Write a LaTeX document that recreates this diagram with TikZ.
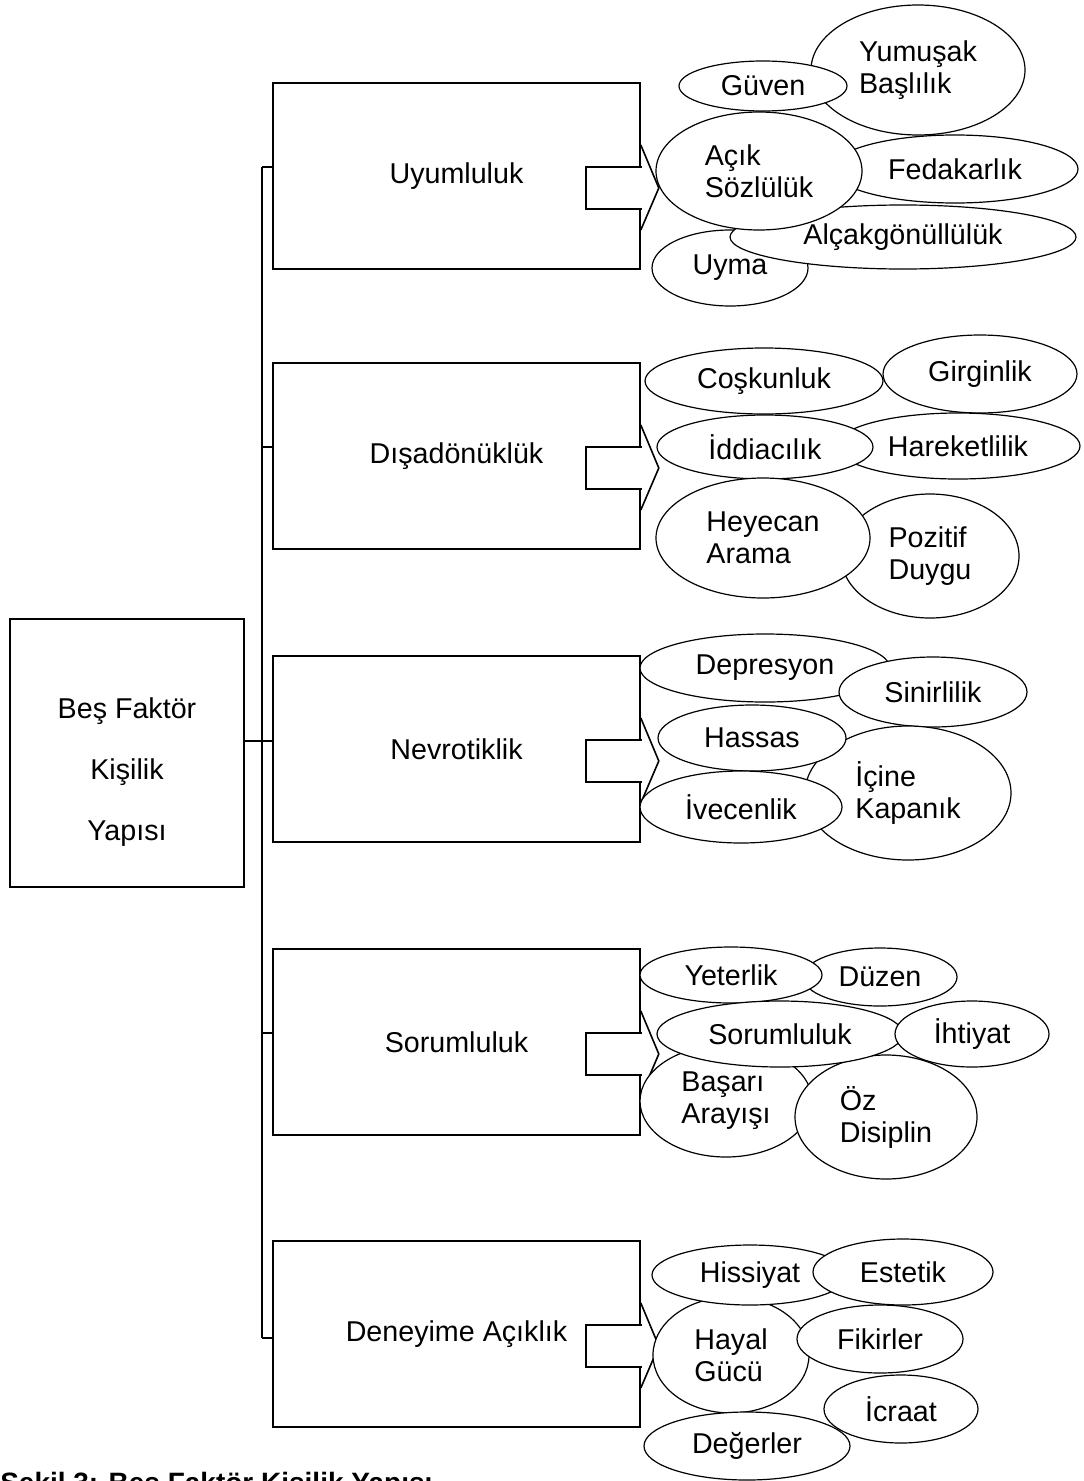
\documentclass[tikz,border=0pt]{standalone}
\usepackage{fontspec}
\setmainfont{Liberation Sans}
\usetikzlibrary{shapes.geometric}

\tikzset{
  factor/.style={draw, line width=1.2pt, minimum width=275.25pt, minimum height=139.5pt,
    font=\fontsize{21.5}{24}\selectfont},
  facet/.style 2 args={draw, ellipse, fill=white, line width=0.9pt, inner sep=0pt, align=left,
    minimum width=#1*0.75pt, minimum height=#2*0.75pt, font=\fontsize{21.5}{24}\selectfont},
  link/.style={line width=0.8pt},
}

\begin{document}
\begin{tikzpicture}[x=0.75pt, y=-0.75pt]
  \useasboundingbox (0,0) rectangle (1083,1481);

  % left box
  \node [factor, minimum width=175.5pt, minimum height=201pt] (bes) at (127,753) {};
  \node [align=center, font=\fontsize{21.5}{46}\selectfont] (bes-t) at (127,772) {Beş Faktör\\Kişilik\\Yapısı};

  % the five factors
  \node [factor] (uyum) at (456.5,176) {Uyumluluk};
  \node [factor] (disa) at (456.5,456) {Dışadönüklük};
  \node [factor] (nevro) at (456.5,749) {Nevrotiklik};
  \node [factor] (sorum) at (456.5,1042) {Sorumluluk};
  \node [factor] (deney) at (456.5,1334) {Deneyime Açıklık};

  \foreach \b in {uyum,disa,nevro,sorum,deney} {
    \begin{scope}[shift={(\b.east)}]
      \fill [white] (-55,-9) rectangle (1,33);
      \draw [line width=1.2pt] (1,-9) -- (-55,-9) -- (-55,33) -- (1,33);
      \draw [line width=1.2pt] (0,-31) -- (18,12) -- (0,54);
    \end{scope}
  }

  % connectors
  \coordinate (j1) at (262,167);
  \coordinate (j2) at (262,447);
  \coordinate (j3) at (262,741);
  \coordinate (j4) at (262,1033);
  \coordinate (j5) at (262,1338);
  \draw [link] (j1) -- (j5);
  \draw [link] (j1) -- (uyum.west |- j1);
  \draw [link] (j2) -- (disa.west |- j2);
  \draw [link] (bes.east |- j3) -- (nevro.west |- j3);
  \draw [link] (j4) -- (sorum.west |- j4);
  \draw [link] (j5) -- (deney.west |- j5);

  % Uyumluluk
  \node [facet={214}{130}] (yumusak) at (918,70) {Yumuşak\\Başlılık};
  \node [facet={168}{50}] (guven) at (763,86) {Güven};
  \node [facet={246}{68}] (fedakar) at (955,169) {Fedakarlık};
  \node [facet={156}{76}] (uyma) at (730,268) {Uyma};
  \node [facet={346}{64}] (alcak) at (903,237) {Alçakgönüllülük};
  \node [facet={206}{118}] (acik) at (759,171) {Açık\\Sözlülük};

  % Dışadönüklük
  \node [facet={238}{66}] (coskun) at (764,381) {Coşkunluk};
  \node [facet={194}{78}] (girgin) at (980,374) {Girginlik};
  \node [facet={244}{66}] (hareket) at (958,446) {Hareketlilik};
  \node [facet={216}{64}] (iddia) at (765,447) {İddiacılık};
  \node [facet={178}{124}] (pozitif) at (930,556) {Pozitif\\Duygu};
  \node [facet={214}{120}] (heyecan) at (763,538) {Heyecan\\Arama};

  % Nevrotiklik
  \node [facet={250}{68}] (depres) at (765,668) {Depresyon};
  \node [facet={188}{70}] (sinir) at (933,692) {Sinirlilik};
  \node [facet={206}{134}] (icine) at (908,793) {İçine\\Kapanık};
  \node [facet={188}{66}] (hassas) at (752,738) {Hassas};
  \node [facet={202}{72}] (ivecen) at (741,807) {İvecenlik};

  % Sorumluluk
  \node [facet={154}{58}] (duzen) at (880,977) {Düzen};
  \node [facet={182}{56}] (yeter) at (731,975) {Yeterlik};
  \node [facet={172}{112}] (basari) at (726,1101) {Başarı\\Arayışı};
  \node [facet={182}{124}] (oz) at (886,1117) {Öz\\Disiplin};
  \node [facet={246}{66}] (sorumf) at (780,1034) {Sorumluluk};
  \node [facet={154}{66}] (ihtiyat) at (972,1034) {İhtiyat};

  % Deneyime Açıklık
  \node [facet={156}{116}] (hayal) at (731,1355) {Hayal\\Gücü};
  \node [facet={196}{60}] (hissiyat) at (750,1275) {Hissiyat};
  \node [facet={180}{66}] (estetik) at (903,1272) {Estetik};
  \node [facet={166}{68}] (fikir) at (880,1339) {Fikirler};
  \node [facet={154}{68}] (icraat) at (901,1409) {İcraat};
  \node [facet={206}{68}] (deger) at (747,1446) {Değerler};

  % caption, cut by the page edge
  \node [anchor=base west, inner sep=0pt, font=\bfseries\fontsize{21}{24}\selectfont] (caption) at (0,1492) {Şekil 3: Beş Faktör Kişilik Yapısı};
\end{tikzpicture}
\end{document}
